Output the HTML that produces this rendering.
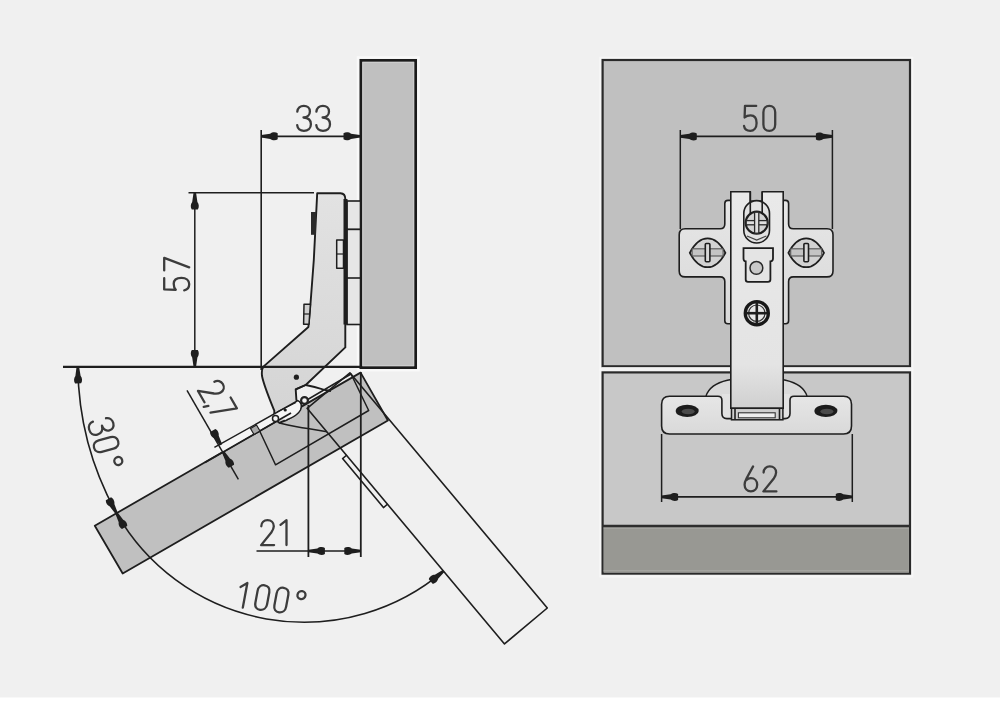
<!DOCTYPE html>
<html><head><meta charset="utf-8"><style>
html,body{margin:0;padding:0;width:1000px;height:701px;overflow:hidden;background:#f0f0f0;font-family:"Liberation Sans",sans-serif}
svg{display:block;filter:blur(0.35px)}
</style></head><body>
<svg width="1000" height="701" viewBox="0 0 1000 701">
<defs><linearGradient id="gArm" x1="0" y1="0" x2="0" y2="1"><stop offset="0" stop-color="#e2e2e2"/><stop offset="1" stop-color="#d4d4d4"/></linearGradient><linearGradient id="gArmR" x1="0" y1="0" x2="0" y2="1"><stop offset="0" stop-color="#e9e9e9"/><stop offset="0.8" stop-color="#e4e4e4"/><stop offset="1" stop-color="#cfcfcf"/></linearGradient><linearGradient id="gPlate" x1="0" y1="0" x2="0" y2="1"><stop offset="0" stop-color="#e6e6e6"/><stop offset="1" stop-color="#d9d9d9"/></linearGradient></defs>
<rect x="0" y="0" width="1000" height="701" fill="#f0f0f0"/>
<rect x="0" y="697.5" width="1000" height="4" fill="#ffffff"/>
<rect x="357.8" y="57.3" width="60.8" height="313" fill="none" stroke="#f9f9f9" stroke-width="2.2"/>
<rect x="360.9" y="60.4" width="54.7" height="307.2" fill="#c0c0c0" stroke="#1c1c1c" stroke-width="2.8"/>
<rect x="362.8" y="62.3" width="50.9" height="303.4" fill="none" stroke="#d0d0d0" stroke-width="1"/>
<rect x="347" y="201" width="13.5" height="123.5" fill="#e6e6e6" stroke="#1e1e1e" stroke-width="1.6"/>
<line x1="347" y1="229.3" x2="360.5" y2="229.3" stroke="#1e1e1e" stroke-width="1.8" />
<line x1="347" y1="278" x2="360.5" y2="278" stroke="#1e1e1e" stroke-width="1.6" />
<polygon points="360.60,372.60 387.90,420.50 122.70,573.50 94.80,525.70" fill="#c0c0c0" stroke="#1e1e1e" stroke-width="1.8" stroke-linejoin="round" />
<polygon points="351.00,374.00 368.70,410.50 275.50,464.80 258.50,428.50" fill="none" stroke="#1e1e1e" stroke-width="1.5" stroke-linejoin="round" />
<polygon points="307.10,408.30 349.90,372.80 547.30,608.00 504.50,643.90" fill="none" stroke="#1e1e1e" stroke-width="1.6" stroke-linejoin="round" />
<path d="M346.8,455.0 L342.58,458.53 L383.48,507.53 L387.7,504.0" fill="none" stroke="#1e1e1e" stroke-width="1.6" stroke-linejoin="round"/>
<path d="M317.2,193.2 L340.5,193.2 Q345.3,193.5 345.3,199 L345.3,347.4 L305.7,385 L295.7,389.3 L296.4,400 C298,402.5 300.7,403.5 300.7,406 C300.7,412 295,416 286.4,420 L279.3,422.8 L274.3,419 L274.3,410.7 C270,400 264,386 262,376 C261.6,372 262,368.5 263.4,366.6 L308.4,327 L310.4,305 L313.8,260 Z" fill="url(#gArm)" stroke="#1e1e1e" stroke-width="1.9" stroke-linejoin="round"/>
<rect x="343.5" y="199" width="4" height="125.5" fill="#1e1e1e"/>
<rect x="311" y="212" width="5" height="22.8" fill="#2a2a2a"/>
<polygon points="304.00,304.20 310.40,304.20 309.00,324.20 303.60,324.20" fill="#cfcfcf" stroke="#1e1e1e" stroke-width="1.5" stroke-linejoin="round" />
<line x1="304" y1="314" x2="310" y2="314" stroke="#1e1e1e" stroke-width="1.2" />
<polygon points="336.70,240.00 343.50,240.00 343.50,268.30 336.70,268.30" fill="#e6e6e6" stroke="#1e1e1e" stroke-width="1.5" stroke-linejoin="round" />
<line x1="337" y1="254" x2="343" y2="254" stroke="#1e1e1e" stroke-width="1.2" />
<circle cx="296.4" cy="377.2" r="2.6" fill="#1e1e1e"/>
<path d="M214.4,447.4 L297.8,400.7 C301.5,402.5 302,406 300.5,410 C298.5,414 293,417.5 286.4,420 L280,418.4 L222,452.3 Z" fill="#f5f5f5" stroke="none"/>
<path d="M214.4,447.4 L297.8,400.7 C301.5,402.5 302,406 300.5,410 C298.5,414 293,417.5 286.4,420" fill="none" stroke="#1e1e1e" stroke-width="1.5"/>
<line x1="205" y1="462.4" x2="291" y2="413" stroke="#1e1e1e" stroke-width="1.7" />
<line x1="277" y1="412" x2="296" y2="402.5" stroke="#1e1e1e" stroke-width="1.2" />
<polygon points="250.50,428.50 256.50,425.00 260.00,431.00 254.00,434.50" fill="#a8a8a8" stroke="#1e1e1e" stroke-width="1.2" stroke-linejoin="round" />
<circle cx="285.2" cy="410" r="1.6" fill="#1e1e1e"/>
<circle cx="275.5" cy="418.5" r="3" fill="#f6f6f6" stroke="#1e1e1e" stroke-width="1.5"/>
<path d="M295.7,389.3 L305.7,385 Q316,387 325,390 L331,391" fill="none" stroke="#1e1e1e" stroke-width="1.8"/>
<circle cx="304.5" cy="400.5" r="3.4" fill="#f2f2f2" stroke="#222" stroke-width="2.2"/>
<path d="M279.3,423 C290,425.5 298,427.3 307.8,428.6 L327,431.8" fill="none" stroke="#1e1e1e" stroke-width="1.5"/>
<line x1="63" y1="366.8" x2="361" y2="366.8" stroke="#1e1e1e" stroke-width="2.2" />
<line x1="188.5" y1="192.8" x2="314" y2="192.8" stroke="#1e1e1e" stroke-width="1.5" />
<line x1="194.8" y1="193" x2="194.8" y2="366.8" stroke="#1e1e1e" stroke-width="1.5" />
<path transform="translate(194.8,193) rotate(90) scale(1.0)" d="M0,-1.3L9,-2.6C11,-4.3 14.5,-4.5 16.5,-3L16.5,3C14.5,4.5 11,4.3 9,2.6L0,1.3Z" fill="#1e1e1e"/>
<path transform="translate(194.8,366.5) rotate(270) scale(1.0)" d="M0,-1.3L9,-2.6C11,-4.3 14.5,-4.5 16.5,-3L16.5,3C14.5,4.5 11,4.3 9,2.6L0,1.3Z" fill="#1e1e1e"/>
<g transform="translate(163.2,291.4) rotate(-90)" fill="none" stroke="#3c3c3c" stroke-width="2.3" stroke-linecap="round" stroke-linejoin="round"><path transform="translate(0,0)" d="M13.2,1L2,1L1.6,12.6C3,11.3 5.2,10.5 7.6,10.5C11.6,10.5 13.6,13.6 13.6,18.2C13.6,23 10.9,26 7.3,26C4,26 1.5,24.1 1,21"/><path transform="translate(20,0)" d="M1,1L13.5,1L4,26"/></g>
<line x1="261.2" y1="130" x2="261.2" y2="370" stroke="#1e1e1e" stroke-width="1.6" />
<line x1="261.2" y1="136.3" x2="360" y2="136.3" stroke="#1e1e1e" stroke-width="1.7" />
<path transform="translate(261.2,136.3) rotate(360) scale(1.0)" d="M0,-1.3L9,-2.6C11,-4.3 14.5,-4.5 16.5,-3L16.5,3C14.5,4.5 11,4.3 9,2.6L0,1.3Z" fill="#1e1e1e"/>
<path transform="translate(360,136.3) rotate(180) scale(1.0)" d="M0,-1.3L9,-2.6C11,-4.3 14.5,-4.5 16.5,-3L16.5,3C14.5,4.5 11,4.3 9,2.6L0,1.3Z" fill="#1e1e1e"/>
<g transform="translate(296.3,104.9)" fill="none" stroke="#3c3c3c" stroke-width="2.3" stroke-linecap="round" stroke-linejoin="round"><path transform="translate(0,0)" d="M1,6.8C1.3,3.3 4,1 7.5,1C11.1,1 13.6,3.3 13.6,6.6C13.6,9.9 11.2,12.4 7.2,12.6C11.8,12.8 14.6,15.4 14.6,19.4C14.6,23.4 11.6,26 7.6,26C4,26 1.2,23.8 0.9,20.3"/><path transform="translate(19.1,0)" d="M1,6.8C1.3,3.3 4,1 7.5,1C11.1,1 13.6,3.3 13.6,6.6C13.6,9.9 11.2,12.4 7.2,12.6C11.8,12.8 14.6,15.4 14.6,19.4C14.6,23.4 11.6,26 7.6,26C4,26 1.2,23.8 0.9,20.3"/></g>
<line x1="308.4" y1="405" x2="308.4" y2="557" stroke="#1e1e1e" stroke-width="1.8" />
<line x1="360.8" y1="372" x2="360.8" y2="557" stroke="#1e1e1e" stroke-width="1.8" />
<line x1="256.5" y1="551" x2="360.8" y2="551" stroke="#1e1e1e" stroke-width="1.6" />
<path transform="translate(308.4,551) rotate(360) scale(1.0)" d="M0,-1.3L9,-2.6C11,-4.3 14.5,-4.5 16.5,-3L16.5,3C14.5,4.5 11,4.3 9,2.6L0,1.3Z" fill="#1e1e1e"/>
<path transform="translate(360.8,551) rotate(180) scale(1.0)" d="M0,-1.3L9,-2.6C11,-4.3 14.5,-4.5 16.5,-3L16.5,3C14.5,4.5 11,4.3 9,2.6L0,1.3Z" fill="#1e1e1e"/>
<g transform="translate(260.1,519.1)" fill="none" stroke="#3c3c3c" stroke-width="2.3" stroke-linecap="round" stroke-linejoin="round"><path transform="translate(0,0)" d="M1.2,7.2C1.2,3.4 3.9,1 7.4,1C11,1 13.7,3.4 13.7,7.2C13.7,9.6 12.6,11.4 11.2,13.4L1,26L14,26"/><path transform="translate(19.4,0)" d="M1,5.8L7,1L7,26"/></g>
<line x1="187" y1="390.3" x2="238.4" y2="479.4" stroke="#1e1e1e" stroke-width="1.5" />
<path transform="translate(221,444.8) rotate(240) scale(1.0)" d="M0,-1.3L9,-2.6C11,-4.3 14.5,-4.5 16.5,-3L16.5,3C14.5,4.5 11,4.3 9,2.6L0,1.3Z" fill="#1e1e1e"/>
<path transform="translate(223.2,452) rotate(60) scale(1.0)" d="M0,-1.3L9,-2.6C11,-4.3 14.5,-4.5 16.5,-3L16.5,3C14.5,4.5 11,4.3 9,2.6L0,1.3Z" fill="#1e1e1e"/>
<g transform="translate(220,377.1) rotate(60)" fill="none" stroke="#3c3c3c" stroke-width="2.3" stroke-linecap="round" stroke-linejoin="round"><path transform="translate(0,0)" d="M1.2,7.2C1.2,3.4 3.9,1 7.4,1C11,1 13.7,3.4 13.7,7.2C13.7,9.6 12.6,11.4 11.2,13.4L1,26L14,26"/><path transform="translate(16,0)" d="M3.2,24.5L1.6,29"/><path transform="translate(22,0)" d="M1,1L13.5,1L4,26"/></g>
<g transform="translate(112.3,415.5) rotate(75)" fill="none" stroke="#3c3c3c" stroke-width="2.3" stroke-linecap="round" stroke-linejoin="round"><path transform="translate(0,0)" d="M1,6.8C1.3,3.3 4,1 7.5,1C11.1,1 13.6,3.3 13.6,6.6C13.6,9.9 11.2,12.4 7.2,12.6C11.8,12.8 14.6,15.4 14.6,19.4C14.6,23.4 11.6,26 7.6,26C4,26 1.2,23.8 0.9,20.3"/><path transform="translate(19.5,0)" d="M1,7.4C1,3.5 3.5,1 6.9,1C10.3,1 12.8,3.5 12.8,7.4L12.8,19.6C12.8,23.5 10.3,26 6.9,26C3.5,26 1,23.5 1,19.6Z"/><path transform="translate(40.5,1)" d="M1,5A4,4 0 1 0 9,5A4,4 0 1 0 1,5Z"/></g>
<path d="M77.83,366.8 A308.3,308.3 0 0 0 116.5,513.2" fill="none" stroke="#1e1e1e" stroke-width="1.6"/>
<path transform="translate(77.83,366.9) rotate(89) scale(1.0)" d="M0,-1.3L9,-2.6C11,-4.3 14.5,-4.5 16.5,-3L16.5,3C14.5,4.5 11,4.3 9,2.6L0,1.3Z" fill="#1e1e1e"/>
<path transform="translate(116.5,513.2) rotate(240.8) scale(1.0)" d="M0,-1.3L9,-2.6C11,-4.3 14.5,-4.5 16.5,-3L16.5,3C14.5,4.5 11,4.3 9,2.6L0,1.3Z" fill="#1e1e1e"/>
<path d="M116.5,513.2 A215.8,215.8 0 0 0 443.5,571.1" fill="none" stroke="#1e1e1e" stroke-width="1.6"/>
<path transform="translate(116.5,513.2) rotate(60.400000000000006) scale(1.0)" d="M0,-1.3L9,-2.6C11,-4.3 14.5,-4.5 16.5,-3L16.5,3C14.5,4.5 11,4.3 9,2.6L0,1.3Z" fill="#1e1e1e"/>
<path transform="translate(443.5,571.1) rotate(141) scale(1.0)" d="M0,-1.3L9,-2.6C11,-4.3 14.5,-4.5 16.5,-3L16.5,3C14.5,4.5 11,4.3 9,2.6L0,1.3Z" fill="#1e1e1e"/>
<g transform="translate(240.6,581.1) rotate(7.5) skewX(-3)" fill="none" stroke="#3c3c3c" stroke-width="2.3" stroke-linecap="round" stroke-linejoin="round"><path transform="translate(0,0)" d="M1,5.8L7,1L7,26"/><path transform="translate(17.5,0)" d="M1,7.4C1,3.5 3.5,1 6.9,1C10.3,1 12.8,3.5 12.8,7.4L12.8,19.6C12.8,23.5 10.3,26 6.9,26C3.5,26 1,23.5 1,19.6Z"/><path transform="translate(36.7,0)" d="M1,7.4C1,3.5 3.5,1 6.9,1C10.3,1 12.8,3.5 12.8,7.4L12.8,19.6C12.8,23.5 10.3,26 6.9,26C3.5,26 1,23.5 1,19.6Z"/><path transform="translate(57.5,1)" d="M1,5A4,4 0 1 0 9,5A4,4 0 1 0 1,5Z"/></g>
<rect x="600.3" y="57.8" width="312" height="312" fill="none" stroke="#f7f7f7" stroke-width="2"/>
<rect x="600.3" y="370" width="312" height="206.5" fill="none" stroke="#f7f7f7" stroke-width="2"/>
<rect x="602.6" y="60" width="307.4" height="306.3" fill="#c0c0c0" stroke="#2a2a2a" stroke-width="2.2"/>
<rect x="601.5" y="367.3" width="310" height="3.9" fill="#f3f3f3"/>
<rect x="602.6" y="372.4" width="307.4" height="201.2" fill="#c8c8c8" stroke="#2a2a2a" stroke-width="2.2"/>
<rect x="603.7" y="526.3" width="305.2" height="46.2" fill="#989893"/>
<rect x="603.7" y="527.4" width="305.2" height="1.3" fill="#aaaaa6"/>
<rect x="603.7" y="570" width="305.2" height="1.2" fill="#a4a4a0"/>
<line x1="602" y1="525.9" x2="910" y2="525.9" stroke="#2e2e2e" stroke-width="2.5" />
<line x1="680.3" y1="130" x2="680.3" y2="229" stroke="#1e1e1e" stroke-width="1.5" />
<line x1="832.4" y1="130" x2="832.4" y2="229" stroke="#1e1e1e" stroke-width="1.5" />
<line x1="680.3" y1="136.4" x2="832.4" y2="136.4" stroke="#1e1e1e" stroke-width="1.7" />
<path transform="translate(680.3,136.4) rotate(360) scale(1.0)" d="M0,-1.3L9,-2.6C11,-4.3 14.5,-4.5 16.5,-3L16.5,3C14.5,4.5 11,4.3 9,2.6L0,1.3Z" fill="#1e1e1e"/>
<path transform="translate(832.4,136.4) rotate(180) scale(1.0)" d="M0,-1.3L9,-2.6C11,-4.3 14.5,-4.5 16.5,-3L16.5,3C14.5,4.5 11,4.3 9,2.6L0,1.3Z" fill="#1e1e1e"/>
<g transform="translate(743,104.9)" fill="none" stroke="#3c3c3c" stroke-width="2.3" stroke-linecap="round" stroke-linejoin="round"><path transform="translate(0,0)" d="M13.2,1L2,1L1.6,12.6C3,11.3 5.2,10.5 7.6,10.5C11.6,10.5 13.6,13.6 13.6,18.2C13.6,23 10.9,26 7.3,26C4,26 1.5,24.1 1,21"/><path transform="translate(19.4,0)" d="M1,7.4C1,3.5 3.5,1 6.9,1C10.3,1 12.8,3.5 12.8,7.4L12.8,19.6C12.8,23.5 10.3,26 6.9,26C3.5,26 1,23.5 1,19.6Z"/></g>
<path d="M728,200.4L785.6,200.4Q788.6,200.4 788.6,203.4L788.6,224Q788.6,228.7 793.3,228.7L827,228.7Q833,228.7 833,234.7L833,270.9Q833,276.9 827,276.9L793.3,276.9Q788.6,276.9 788.6,281.6L788.6,320.7Q788.6,323.7 785.6,323.7L727.8,323.7Q724.8,323.7 724.8,320.7L724.8,281.6Q724.8,276.9 720.1,276.9L685.2,276.9Q679.2,276.9 679.2,270.9L679.2,234.7Q679.2,228.7 685.2,228.7L720.1,228.7Q724.8,228.7 724.8,224L724.8,203.4Q724.8,200.4 728,200.4Z" fill="url(#gPlate)" stroke="#1e1e1e" stroke-width="1.6"/>
<path d="M689.8000000000001,252.8C695.0,243 700.0,238.4 707.6,238.4C715.2,238.4 720.2,243 725.4,252.8C720.2,262.6 715.2,267.2 707.6,267.2C700.0,267.2 695.0,262.6 689.8000000000001,252.8Z" fill="#d2d2d2" stroke="#1e1e1e" stroke-width="1.8"/>
<rect x="692.1" y="248.8" width="31" height="7.2" fill="#c4c4c4" stroke="#555" stroke-width="1.1"/>
<rect x="705.3000000000001" y="243.5" width="4.6" height="18.3" rx="1" fill="#d8d8d8" stroke="#1e1e1e" stroke-width="1.6"/>
<path d="M788.4000000000001,252.8C793.6,243 798.6,238.4 806.2,238.4C813.8000000000001,238.4 818.8000000000001,243 824.0,252.8C818.8000000000001,262.6 813.8000000000001,267.2 806.2,267.2C798.6,267.2 793.6,262.6 788.4000000000001,252.8Z" fill="#d2d2d2" stroke="#1e1e1e" stroke-width="1.8"/>
<rect x="790.7" y="248.8" width="31" height="7.2" fill="#c4c4c4" stroke="#555" stroke-width="1.1"/>
<rect x="803.9000000000001" y="243.5" width="4.6" height="18.3" rx="1" fill="#d8d8d8" stroke="#1e1e1e" stroke-width="1.6"/>
<path d="M706,396 C712,378 740,378 756.5,378 C773,378 801,378 807,396" fill="#dadada" stroke="#1e1e1e" stroke-width="1.4"/>
<rect x="722" y="394" width="68" height="25" fill="#e2e2e2"/>
<path d="M669.6,396.2L717.9,396.2Q721.9,396.2 721.9,400.2L721.9,413.6Q721.9,418.6 726.9,418.6L785,418.6Q790,418.6 790,413.6L790,400.2Q790,396.2 794,396.2L843.5,396.2Q851.5,396.2 851.5,404.2L851.5,426Q851.5,434 843.5,434L669.6,434Q661.6,434 661.6,426L661.6,404.2Q661.6,396.2 669.6,396.2Z" fill="url(#gPlate)" stroke="#1e1e1e" stroke-width="1.6"/>
<ellipse cx="687.2" cy="410.9" rx="11.5" ry="6.2" fill="#1c1c1c"/>
<ellipse cx="688.2" cy="411.5" rx="6.5" ry="2.8" fill="#4a4a4a"/>
<ellipse cx="825.9" cy="410.9" rx="11.5" ry="6.2" fill="#1c1c1c"/>
<ellipse cx="826.9" cy="411.5" rx="6.5" ry="2.8" fill="#4a4a4a"/>
<rect x="750.3" y="191.8" width="11.9" height="8.6" fill="#c0c0c0"/>
<path d="M730.8,191.8L750.3,191.8L750.3,213L762.2,213L762.2,191.8L783.2,191.8L783.2,408.3L730.8,408.3Z" fill="url(#gArmR)" stroke="#1e1e1e" stroke-width="1.6"/>
<rect x="731.5" y="408.3" width="51.4" height="11.5" fill="#cfcfcf" stroke="#1e1e1e" stroke-width="1.5"/>
<rect x="738.4" y="412.8" width="36.8" height="5" fill="#eeeeee" stroke="#333" stroke-width="1.1"/>
<line x1="735" y1="409" x2="735" y2="419.5" stroke="#1e1e1e" stroke-width="1.6" />
<line x1="779.5" y1="409" x2="779.5" y2="419.5" stroke="#1e1e1e" stroke-width="1.6" />
<rect x="743.8" y="200.6" width="25.7" height="42.4" rx="12.85" ry="12.85" fill="#e2e2e2" stroke="#1e1e1e" stroke-width="1.6"/>
<path d="M750.3,192 L750.3,213 M762.2,192 L762.2,213" stroke="#1e1e1e" stroke-width="1.6"/>
<circle cx="756.7" cy="222.7" r="11" fill="#d4d4d4" stroke="#1e1e1e" stroke-width="2.2"/>
<path d="M747,236 L756.7,240 L766.4,236" fill="none" stroke="#444" stroke-width="1.3"/>
<rect x="746.2" y="220.6" width="21" height="4.2" fill="#e0e0e0" stroke="#2a2a2a" stroke-width="1.3"/>
<rect x="754.6" y="212.2" width="4.2" height="21" fill="#e0e0e0" stroke="#2a2a2a" stroke-width="1.3"/>
<path d="M743.5,248.2L773,248.2L773,258.6Q773,261.4 770.4,261.4L770.4,279.5Q770.4,281.8 768,281.8L748,281.8Q745.7,281.8 745.7,279.5L745.7,261.4Q743.5,261.4 743.5,258.6Z" fill="#e4e4e4" stroke="#1e1e1e" stroke-width="1.8"/>
<circle cx="756.4" cy="267.9" r="6.4" fill="#c8c8c8" stroke="#2a2a2a" stroke-width="1.5"/>
<circle cx="756.8" cy="313.2" r="11.6" fill="#e8e8e8" stroke="#181818" stroke-width="3.2"/>
<circle cx="756.8" cy="313.2" r="8.2" fill="none" stroke="#333" stroke-width="1.2"/>
<line x1="746" y1="313.2" x2="767.6" y2="313.2" stroke="#1e1e1e" stroke-width="2.6" />
<line x1="756.8" y1="302.4" x2="756.8" y2="324" stroke="#1e1e1e" stroke-width="2.6" />
<line x1="661.6" y1="434" x2="661.6" y2="502" stroke="#1e1e1e" stroke-width="1.5" />
<line x1="852.3" y1="434" x2="852.3" y2="502" stroke="#1e1e1e" stroke-width="1.5" />
<line x1="661.6" y1="496.9" x2="852.3" y2="496.9" stroke="#1e1e1e" stroke-width="1.7" />
<path transform="translate(661.6,496.9) rotate(360) scale(1.0)" d="M0,-1.3L9,-2.6C11,-4.3 14.5,-4.5 16.5,-3L16.5,3C14.5,4.5 11,4.3 9,2.6L0,1.3Z" fill="#1e1e1e"/>
<path transform="translate(852.3,496.9) rotate(180) scale(1.0)" d="M0,-1.3L9,-2.6C11,-4.3 14.5,-4.5 16.5,-3L16.5,3C14.5,4.5 11,4.3 9,2.6L0,1.3Z" fill="#1e1e1e"/>
<g transform="translate(743.6,465.4)" fill="none" stroke="#3c3c3c" stroke-width="2.3" stroke-linecap="round" stroke-linejoin="round"><path transform="translate(0,0)" d="M9.5,1L3,12.8C1.8,15 1,16.8 1,19.4C1,23.3 3.7,26 7.3,26C10.9,26 13.6,23.3 13.6,19.4C13.6,15.5 10.9,12.8 7.3,12.8C5.2,12.8 3.6,13.7 2.6,14.8"/><path transform="translate(18.8,0)" d="M1.2,7.2C1.2,3.4 3.9,1 7.4,1C11,1 13.7,3.4 13.7,7.2C13.7,9.6 12.6,11.4 11.2,13.4L1,26L14,26"/></g>
</svg>
</body></html>
